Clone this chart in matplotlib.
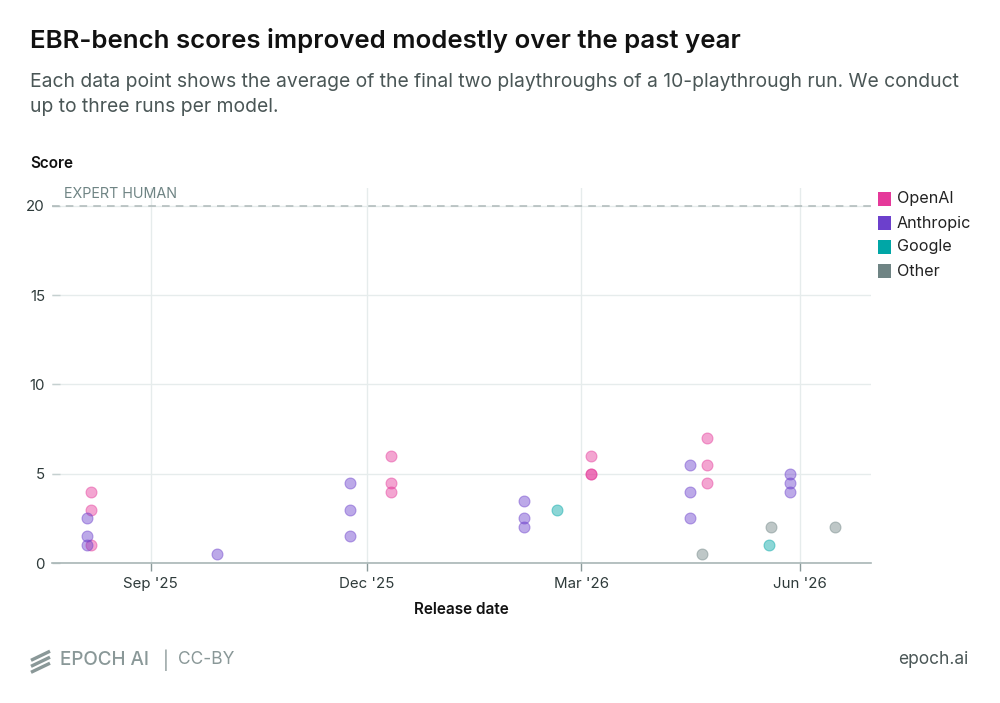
import matplotlib
matplotlib.use("Agg")
import matplotlib.pyplot as plt
import matplotlib.dates as mdates
from matplotlib.lines import Line2D
from matplotlib.patches import Rectangle
import numpy as np
import datetime as dt

plt.rcParams['font.family'] = ['Inter', 'DejaVu Sans']

# ---- data ----
dates = ["2025-08-07", "2025-08-07", "2025-08-05", "2025-08-05", "2025-08-05", "2025-08-07",
         "2025-09-29",
         "2025-11-24", "2025-11-24", "2025-11-24",
         "2025-12-11", "2025-12-11", "2025-12-11",
         "2026-02-05", "2026-02-05", "2026-02-05",
         "2026-02-19",
         "2026-03-05", "2026-03-05", "2026-03-05",
         "2026-04-16", "2026-04-16", "2026-04-16",
         "2026-04-23", "2026-04-23", "2026-04-23",
         "2026-04-21",
         "2026-05-28", "2026-05-28", "2026-05-28",
         "2026-05-20", "2026-05-19", "2026-06-16"]
scores = [4, 3, 2.5, 1.5, 1, 1,
          0.5,
          4.5, 3, 1.5,
          6, 4.5, 4,
          3.5, 2.5, 2,
          3,
          6, 5, 5,
          5.5, 4, 2.5,
          7, 5.5, 4.5,
          0.5,
          5, 4.5, 4,
          2, 1, 2]
labs = ["OpenAI", "OpenAI", "Anthropic", "Anthropic", "Anthropic", "OpenAI",
        "Anthropic",
        "Anthropic", "Anthropic", "Anthropic",
        "OpenAI", "OpenAI", "OpenAI",
        "Anthropic", "Anthropic", "Anthropic",
        "Google",
        "OpenAI", "OpenAI", "OpenAI",
        "Anthropic", "Anthropic", "Anthropic",
        "OpenAI", "OpenAI", "OpenAI",
        "Other",
        "Anthropic", "Anthropic", "Anthropic",
        "Other", "Google", "Other"]
lab_order = ["OpenAI", "Anthropic", "Google", "Other"]
lab_colors = {"OpenAI": "#E5399A", "Anthropic": "#6C40CC", "Google": "#00A6A6", "Other": "#6F8484"}
tick_dates = ["2025-09-01", "2025-12-01", "2026-03-01", "2026-06-01"]
tick_labels = ["Sep '25", "Dec '25", "Mar '26", "Jun '26"]
y_ticks = [0, 5, 10, 15, 20]
expert_human = 20

# ---- figure ----
fig = plt.figure(figsize=(10, 7.03), dpi=100)
ax = fig.add_axes([0.052, 0.199, 0.819, 0.5336])

d = np.array([dt.datetime.strptime(s, "%Y-%m-%d") for s in dates])
s = np.array(scores)
l = np.array(labs)
for lab in lab_order:
    m = l == lab
    ax.scatter(d[m], s[m], s=62, facecolor=lab_colors[lab], alpha=0.45,
               edgecolor=lab_colors[lab], linewidth=0.8, zorder=3)

ax.set_xlim(dt.datetime(2025, 7, 21, 10), dt.datetime(2026, 7, 1))
ax.set_ylim(0, 21)

tk = [dt.datetime.strptime(t, "%Y-%m-%d") for t in tick_dates]
ax.set_xticks(tk)
ax.set_xticklabels(tick_labels)
ax.set_yticks(y_ticks)
ax.set_yticklabels([str(v) for v in y_ticks])

grid_c = "#E6ECEC"
ax.grid(True, color=grid_c, linewidth=1.0, zorder=0)
ax.set_axisbelow(True)
for sp in ["top", "right", "left"]:
    ax.spines[sp].set_visible(False)
ax.spines["bottom"].set_color("#A9B6B6")
ax.spines["bottom"].set_linewidth(1.2)

ax.tick_params(axis="x", length=6, width=1, color="#8A9A9A", labelsize=10.8,
               labelcolor="#2E3A3A", pad=4)
ax.tick_params(axis="y", length=6, width=1, color="#C5D0D0", labelsize=10.8,
               labelcolor="#2E3A3A", pad=5, direction="in")

ax.axhline(expert_human, color="#AEB9B9", linestyle=(0, (5, 4)), linewidth=1.1, zorder=1)
ax.text(dt.datetime(2025, 7, 26, 12), expert_human + 0.28, "EXPERT HUMAN", fontsize=10.3,
        color="#6F8484", va="bottom", ha="left")

ax.set_xlabel("Release date", fontsize=11, fontweight="semibold", color="#111111", labelpad=8)

# titles
fig.text(0.030, 0.943, "EBR-bench scores improved modestly over the past year",
         fontsize=18.6, fontweight="semibold", color="#111111", ha="left", va="center")
fig.text(0.030, 0.884, "Each data point shows the average of the final two playthroughs of a 10-playthrough run. We conduct",
         fontsize=13.9, color="#4A5656", ha="left", va="center")
fig.text(0.030, 0.848, "up to three runs per model.",
         fontsize=13.9, color="#4A5656", ha="left", va="center")
fig.text(0.030, 0.767, "Score", fontsize=11, fontweight="semibold", color="#111111",
         ha="left", va="center")

# legend
for i, lab in enumerate(lab_order):
    yc = 1 - (199 + 24 * i) / 703
    fig.patches.append(Rectangle((0.878, yc - 0.0095), 0.0125, 0.019, transform=fig.transFigure,
                                 facecolor=lab_colors[lab], edgecolor="none"))
    fig.text(0.897, yc, lab, fontsize=11.6, color="#222222", ha="left", va="center")

# footer
fc = "#8A9898"
for k in range(3):
    y0 = 1 - (654 + 6 * k) / 703
    fig.lines.append(Line2D([0.031, 0.050], [y0 - 0.009, y0 + 0.004], transform=fig.transFigure,
                            color=fc, linewidth=2.4, solid_capstyle="butt"))
fig.text(0.060, 1 - 660 / 703, "EPOCH AI", fontsize=13.6, fontweight="medium", color=fc,
         ha="left", va="center")
fig.text(0.163, 1 - 660 / 703, "|", fontsize=12.5, color=fc, ha="left", va="center")
fig.text(0.178, 1 - 660 / 703, "CC-BY", fontsize=12.5, color=fc, ha="left", va="center")
fig.text(0.968, 1 - 660 / 703, "epoch.ai", fontsize=12.5, color="#4A5656", ha="right", va="center")

fig.savefig("out.png", dpi=100)
